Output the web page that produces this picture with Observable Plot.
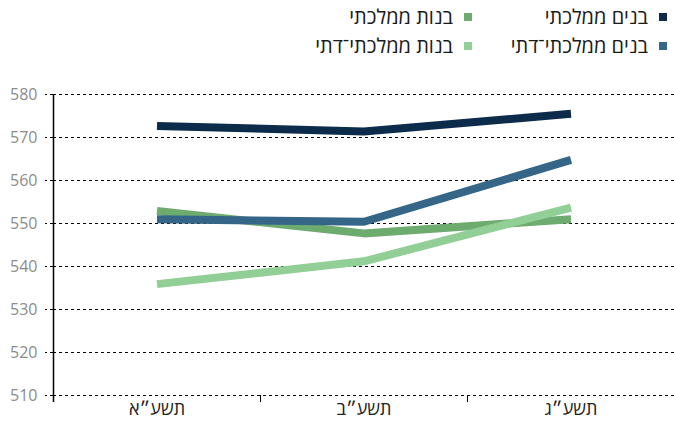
<!DOCTYPE html>
<html><head><meta charset="utf-8">
<script src="https://cdn.jsdelivr.net/npm/d3@7"></script>
<script src="https://cdn.jsdelivr.net/npm/@observablehq/plot@0.6"></script>
<style>
body{margin:0;background:#fff;font-family:"Open Sans",sans-serif;}
#legend{height:62px;direction:rtl;display:grid;grid-template-columns:195px 200px;grid-template-rows:29px 29px;padding-right:7px;padding-top:2px;box-sizing:border-box;}
.item{display:flex;align-items:center;font-size:20px;color:#1a1a1a;white-space:nowrap;line-height:29px;}
.sw{width:8px;height:8px;margin-left:11px;flex:none;}
</style></head><body>
<div id="legend"></div>
<div id="chart"></div>
<script>
const years = ["תשע״א", "תשע״ב", "תשע״ג"];
const seriesNames = ["בנים ממלכתי", "בנות ממלכתי", "בנים ממלכתי־דתי", "בנות ממלכתי־דתי"];
const seriesColors = ["#0d2b4b", "#6dab6f", "#356688", "#91cf96"];
const boysState = [572.7, 571.4, 575.5];
const girlsState = [552.9, 547.7, 551.0];
const boysRel = [551.0, 550.4, 564.8];
const girlsRel = [535.9, 541.2, 553.7];
const yTicks = [510, 520, 530, 540, 550, 560, 570, 580];

const values = [boysState, girlsState, boysRel, girlsRel];
const drawOrder = [1, 2, 3, 0];
const rows = [];
for (const s of drawOrder) years.forEach((yr, i) => rows.push({series: seriesNames[s], year: yr, value: values[s][i]}));

const legend = document.getElementById("legend");
seriesNames.forEach((n, i) => {
  const d = document.createElement("div");
  d.className = "item";
  d.innerHTML = `<span class="sw" style="background:${seriesColors[i]}"></span><span>${n}</span>`;
  legend.appendChild(d);
});

const chart = Plot.plot({
  width: 674, height: 362,
  marginTop: 32, marginBottom: 29, marginLeft: 53, marginRight: 0,
  style: {fontFamily: "Open Sans, sans-serif", background: "#fff"},
  x: {type: "band", domain: years, padding: 0},
  y: {domain: [510, 580]},
  color: {domain: seriesNames, range: seriesColors},
  marks: [
    Plot.ruleY(yTicks, {stroke: "#000", strokeDasharray: "3,3", strokeWidth: 1}),
    Plot.axisY({ticks: yTicks, tickSize: 8, tickPadding: 8, stroke: "#000", strokeDasharray: "3,3", fill: "#8c8c8c", fontSize: 16, label: null}),
    Plot.axisX({tickSize: 0, tickPadding: 7, fill: "#222", fontSize: 18, label: null}),
    Plot.ruleX([years[0]], {x: d => d, y1: 580, y2: 510, dx: -103.5, insetBottom: -7, stroke: "#000", strokeWidth: 1.5}),
    Plot.ruleX(years, {x: d => d, y1: 510, y2: 510, dx: 103.5, insetBottom: -7, stroke: "#000", strokeWidth: 1}),
    Plot.line(rows, {x: "year", y: "value", z: "series", stroke: "series", strokeWidth: 8, strokeLinecap: "butt", strokeLinejoin: "miter"})
  ]
});
document.getElementById("chart").appendChild(chart);
</script>
</body></html>
